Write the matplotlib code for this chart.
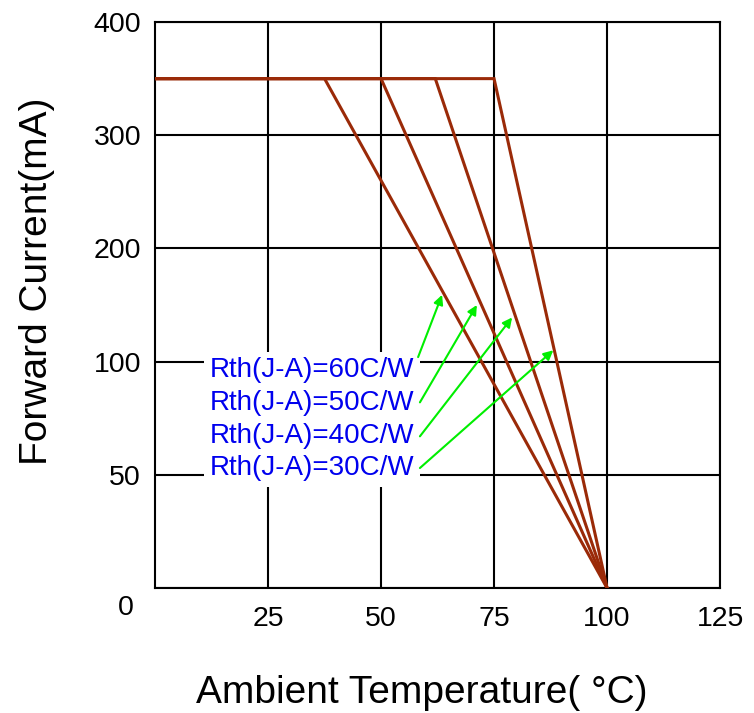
import numpy as np
import matplotlib.pyplot as plt
from matplotlib.transforms import ScaledTranslation

# derating curves: current flat up to the knee, then straight down to 100 C
rth_labels = ['Rth(J-A)=60C/W', 'Rth(J-A)=50C/W', 'Rth(J-A)=40C/W', 'Rth(J-A)=30C/W']
knee_temp = [37.5, 50, 62, 75]
max_current = 350
zero_temp = 100

y_ticks = [0, 50, 100, 200, 300, 400]
x_ticks = [25, 50, 75, 100, 125]

# annotation arrows (tail -> head), in data units
arrow_tail = [(58.2, 104), (58.6, 82), (58.6, 67), (58.6, 53)]
arrow_head = [(63.5, 159), (71.2, 150), (79.0, 139), (88.1, 110)]

plt.rcParams['font.family'] = ['Liberation Sans', 'DejaVu Sans']

pos = np.arange(len(y_ticks))
def fwd(v):
    return np.interp(v, y_ticks, pos)
def inv(p):
    return np.interp(p, pos, y_ticks)

fig = plt.figure(figsize=(7.54, 7.13), dpi=100)
ax = fig.add_axes([0.2056, 0.1753, 0.7494, 0.7938])
ax.set_yscale('function', functions=(fwd, inv))

line_color = '#9a2a08'
for kt in knee_temp:
    ax.plot([0, kt, zero_temp], [max_current, max_current, 0],
            color=line_color, lw=2.2, zorder=3, solid_joinstyle='miter')

ax.set_xlim(0, 125)
ax.set_ylim(0, 400)
ax.set_xticks(x_ticks)
ax.set_yticks(y_ticks)
ax.grid(True, color='black', lw=1.5)
ax.set_axisbelow(True)
for s in ax.spines.values():
    s.set_linewidth(1.5)
ax.tick_params(length=0, labelsize=20.5, pad=10)
ax.tick_params(axis='x', pad=13)

# the zero label sits a bit lower than the rest
lab0 = ax.get_yticklabels()[0]
lab0.set_transform(lab0.get_transform() + ScaledTranslation(-5/72, -12/72, fig.dpi_scale_trans))

# legend-like block of labels on a white patch
ax.text(57.3, 74.5, '\n'.join(rth_labels), ha='right', va='center', multialignment='left',
        color='#0000ee', fontsize=20, linespacing=1.33, zorder=4,
        bbox=dict(facecolor='white', edgecolor='none', pad=4))

for (tx, ty), (hx, hy) in zip(arrow_tail, arrow_head):
    ax.annotate('', xy=(hx, hy), xytext=(tx, ty),
                arrowprops=dict(arrowstyle='-|>', color='#00ee00', lw=1.5,
                                mutation_scale=14, shrinkA=0, shrinkB=0), zorder=5)

ax.set_xlabel('Ambient Temperature( \u00b0C)', fontsize=28, labelpad=31)
ax.xaxis.label.set_x(0.4726)
ax.set_ylabel('Forward Current(mA)', fontsize=28, labelpad=28)
ax.yaxis.label.set_y(0.542)

fig.savefig('out.png', dpi=100)
